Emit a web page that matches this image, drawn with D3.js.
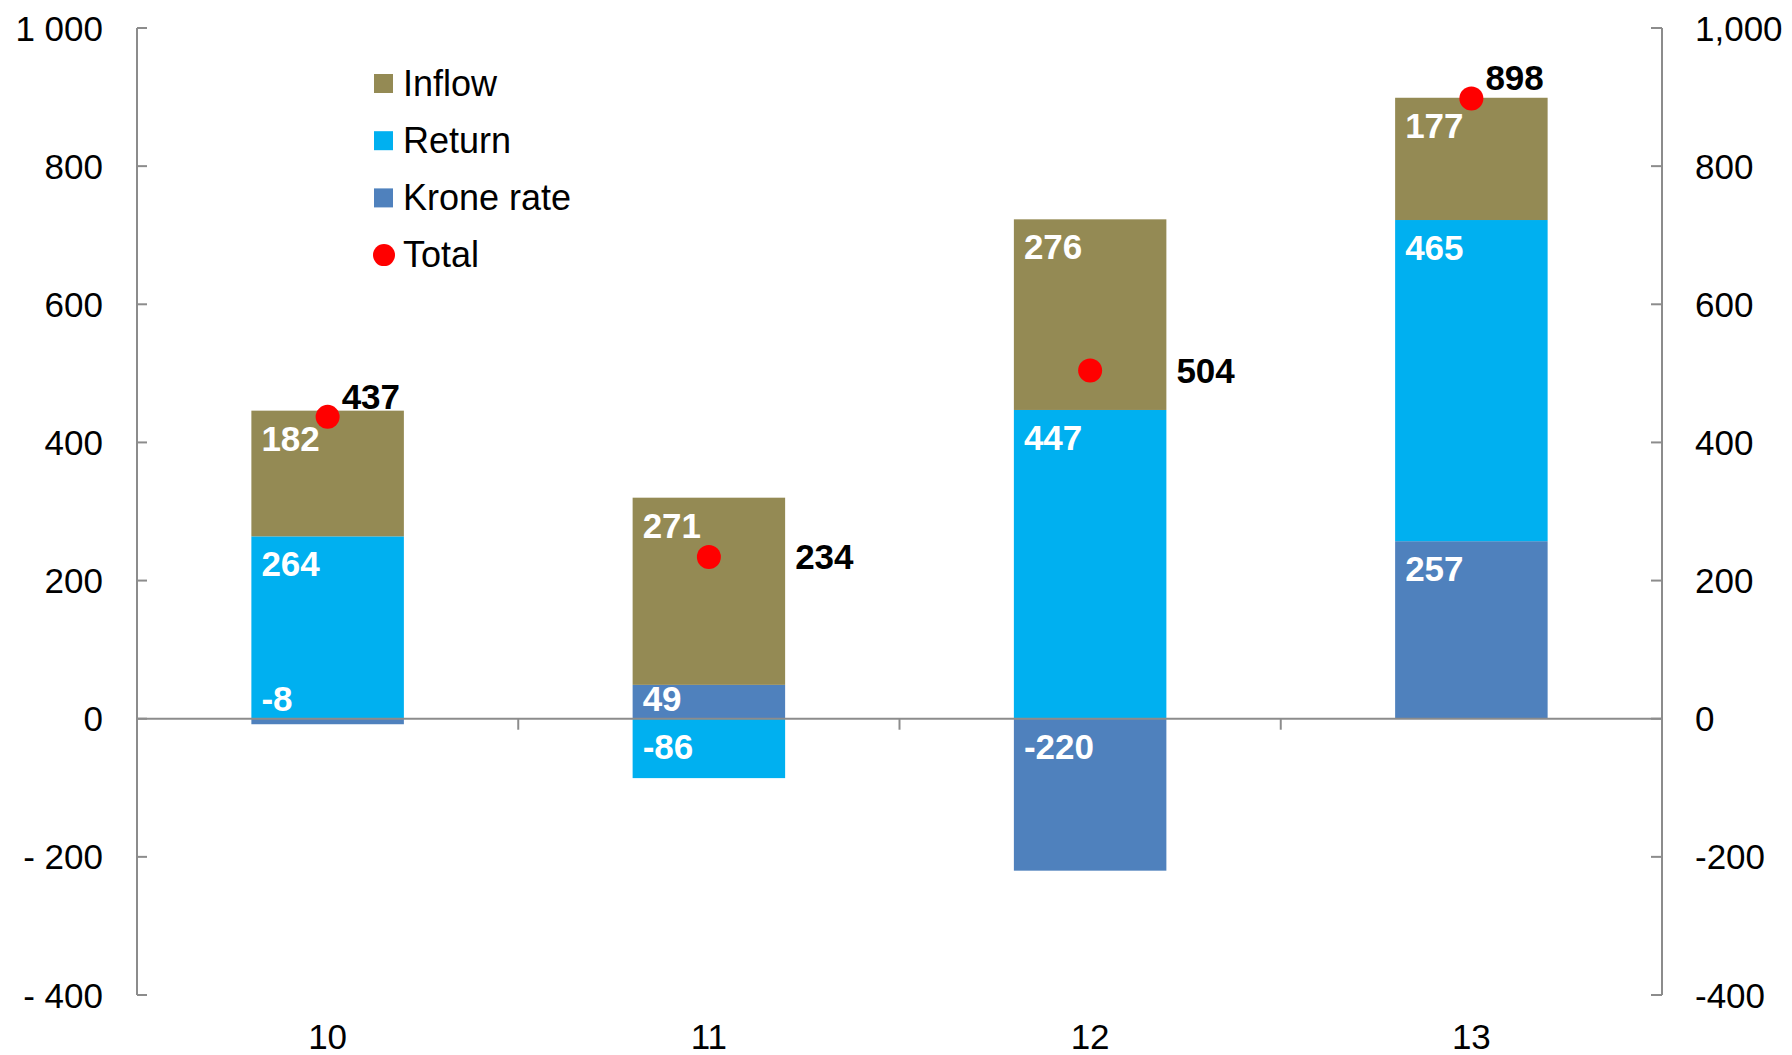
<!DOCTYPE html>
<html lang="en">
<head>
    <meta charset="UTF-8">
    <title>Inflow, return and krone rate</title>
    <script src="https://d3js.org/d3.v7.min.js"></script>
    <style>
        body { margin: 0; background: #fff; }
        svg text { font-family: "Liberation Sans", Arial, sans-serif; }
        .axis-line { stroke: #8c8c8c; stroke-width: 2px; }
        .tick-label { font-size: 35px; fill: #000; }
        .seg-label { font-size: 35px; font-weight: bold; fill: #fff; }
        .total-label { font-size: 35px; font-weight: bold; fill: #000; }
        .legend-text { font-size: 36px; fill: #000; }
    </style>
</head>
<body>
<div id="chart"></div>
<script>
    // data
    var years = ["10", "11", "12", "13"];
    var inflow = [182, 271, 276, 177];
    var returns = [264, -86, 447, 465];
    var kroneRate = [-8, 49, -220, 257];
    var totals = [437, 234, 504, 898];

    var seriesNames = ["Krone rate", "Return", "Inflow"];
    var seriesColors = {"Inflow": "#948A54", "Return": "#00B0F0", "Krone rate": "#4F81BD"};
    var legendNames = ["Inflow", "Return", "Krone rate", "Total"];

    var leftTicks = [-400, -200, 0, 200, 400, 600, 800, 1000];
    var leftTickLabels = ["- 400", "- 200", "0", "200", "400", "600", "800", "1 000"];
    var rightTickLabels = ["-400", "-200", "0", "200", "400", "600", "800", "1,000"];

    var width = 1792, height = 1055;
    var plotLeft = 137, plotRight = 1662, plotTop = 28, plotBottom = 995;

    var svg = d3.select("#chart")
        .append("svg")
        .attr("width", width)
        .attr("height", height);

    var rows = years.map(function (yr, i) {
        return {year: yr, "Inflow": inflow[i], "Return": returns[i], "Krone rate": kroneRate[i], total: totals[i]};
    });

    var x = d3.scaleBand()
        .domain(years)
        .range([plotLeft, plotRight])
        .padding(0);

    var barW = x.bandwidth() * 0.4;

    var y = d3.scaleLinear()
        .domain([-400, 1000])
        .range([plotBottom, plotTop]);

    var stacked = d3.stack()
        .keys(seriesNames)
        .offset(d3.stackOffsetDiverging)(rows);

    var barX = function (yr) { return x(yr) + (x.bandwidth() - barW) / 2; };

    // bars
    stacked.forEach(function (layer) {
        svg.append("g")
            .selectAll("rect")
            .data(layer)
            .enter()
            .append("rect")
            .attr("x", function (d) { return barX(d.data.year); })
            .attr("y", function (d) { return y(Math.max(d[0], d[1])); })
            .attr("width", barW)
            .attr("height", function (d) { return Math.abs(y(d[0]) - y(d[1])); })
            .attr("fill", seriesColors[layer.key]);
    });

    // axes
    svg.append("line").attr("class", "axis-line")
        .attr("x1", plotLeft).attr("x2", plotLeft)
        .attr("y1", plotTop).attr("y2", plotBottom);
    svg.append("line").attr("class", "axis-line")
        .attr("x1", plotRight).attr("x2", plotRight)
        .attr("y1", plotTop).attr("y2", plotBottom);
    svg.append("line").attr("class", "axis-line")
        .attr("x1", plotLeft).attr("x2", plotRight)
        .attr("y1", y(0)).attr("y2", y(0));

    leftTicks.forEach(function (t, i) {
        svg.append("line").attr("class", "axis-line")
            .attr("x1", plotLeft).attr("x2", plotLeft + 10)
            .attr("y1", y(t)).attr("y2", y(t));
        svg.append("line").attr("class", "axis-line")
            .attr("x1", plotRight - 11).attr("x2", plotRight)
            .attr("y1", y(t)).attr("y2", y(t));
        svg.append("text").attr("class", "tick-label")
            .attr("x", 103).attr("y", y(t) + 12.5)
            .attr("text-anchor", "end")
            .text(leftTickLabels[i]);
        svg.append("text").attr("class", "tick-label")
            .attr("x", 1695).attr("y", y(t) + 12.5)
            .text(rightTickLabels[i]);
    });

    // category ticks on the zero line
    years.slice(1).forEach(function (yr) {
        svg.append("line").attr("class", "axis-line")
            .attr("x1", x(yr)).attr("x2", x(yr))
            .attr("y1", y(0)).attr("y2", y(0) + 11);
    });

    years.forEach(function (yr) {
        svg.append("text").attr("class", "tick-label")
            .attr("x", x(yr) + x.bandwidth() / 2)
            .attr("y", 1049)
            .attr("text-anchor", "middle")
            .text(yr);
    });

    // segment labels
    stacked.forEach(function (layer) {
        layer.forEach(function (d) {
            var top = y(Math.max(d[0], d[1]));
            var bot = y(Math.min(d[0], d[1]));
            var ly = (bot - top < 40) ? y(0) - 8 : top + 40;
            svg.append("text").attr("class", "seg-label")
                .attr("x", barX(d.data.year) + 10)
                .attr("y", ly)
                .text(d.data[layer.key]);
        });
    });

    // totals
    var stackTop = function (d) {
        return d3.sum(seriesNames, function (k) { return Math.max(0, d[k]); });
    };

    svg.append("g")
        .selectAll("circle")
        .data(rows)
        .enter()
        .append("circle")
        .attr("cx", function (d) { return x(d.year) + x.bandwidth() / 2; })
        .attr("cy", function (d) { return y(d.total); })
        .attr("r", 12)
        .attr("fill", "#FF0000");

    rows.forEach(function (d) {
        var cx = x(d.year) + x.bandwidth() / 2;
        var nearTop = Math.abs(stackTop(d) - d.total) < 30;
        svg.append("text").attr("class", "total-label")
            .attr("x", nearTop ? cx + 14 : cx + barW / 2 + 10)
            .attr("y", nearTop ? y(d.total) - 8 : y(d.total) + 12)
            .text(d.total);
    });

    // legend
    var legend = svg.append("g");
    legendNames.forEach(function (name, i) {
        var cy = 83.5 + i * 57.2;
        if (name === "Total") {
            legend.append("circle")
                .attr("cx", 384).attr("cy", cy).attr("r", 11)
                .attr("fill", "#FF0000");
        } else {
            legend.append("rect")
                .attr("x", 374).attr("y", cy - 9.5)
                .attr("width", 19).attr("height", 19)
                .attr("fill", seriesColors[name]);
        }
        legend.append("text").attr("class", "legend-text")
            .attr("x", 403).attr("y", cy + 12)
            .text(name);
    });
</script>
</body>
</html>
